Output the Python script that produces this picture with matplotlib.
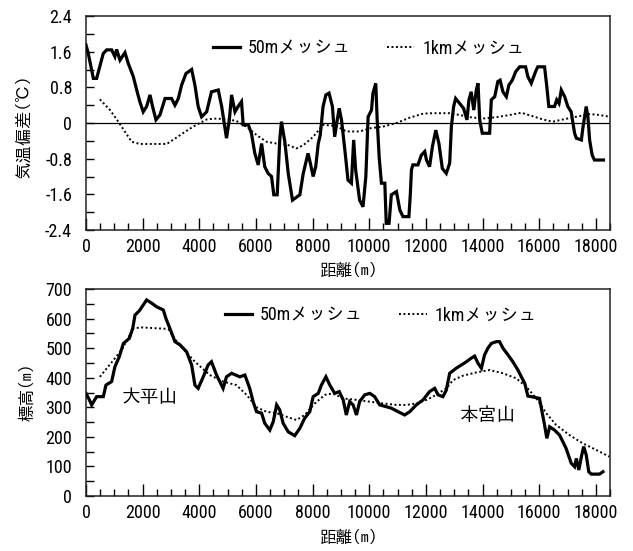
import matplotlib
matplotlib.use('Agg')
import matplotlib.pyplot as plt
from matplotlib import font_manager as fm
from matplotlib.ticker import MultipleLocator, FixedLocator, FixedFormatter

# ---------------- data ----------------
# Top chart: air temperature deviation (°C) vs distance (m)
temp50_d = [0, 80, 260, 375, 610, 730, 905, 1020, 1080, 1200, 1375, 1490, 1670, 1790, 1900,
            2020, 2140, 2260, 2350, 2470, 2610, 2790, 3020, 3140, 3260, 3375, 3530, 3730, 3845,
            3960, 4080, 4260, 4430, 4670, 4790, 4870, 4960, 5060, 5140, 5260, 5370, 5490, 5550,
            5730, 5840, 5960, 6080, 6200, 6310, 6430, 6550, 6630, 6750, 6840, 6900, 7020, 7140,
            7290, 7550, 7670, 7840, 7920, 8020, 8110, 8200, 8270, 8370, 8470, 8580, 8700, 8780,
            8870, 8940, 9020, 9140, 9250, 9370, 9450, 9520, 9660, 9780, 9880, 9960, 10080, 10130,
            10230, 10280, 10350, 10430, 10550, 10600, 10700, 10780, 10960, 11080, 11190, 11310,
            11400, 11450, 11490, 11540, 11720, 11840, 11960, 12020, 12130, 12230, 12350, 12460,
            12580, 12720, 12840, 12900, 12980, 13050, 13190, 13330, 13450, 13520, 13600, 13690,
            13780, 13840, 13900, 13990, 14250, 14310, 14430, 14540, 14620, 14720, 14840, 14930,
            15050, 15170, 15310, 15520, 15600, 15720, 15870, 15950, 16190, 16270, 16340, 16540,
            16620, 16700, 16780, 16900, 17010, 17130, 17250, 17310, 17490, 17540, 17660, 17720,
            17780, 17870, 17950, 18270]
temp50_v = [1.75, 1.56, 1.00, 1.00, 1.56, 1.64, 1.64, 1.49, 1.65, 1.41, 1.58, 1.34, 1.04, 0.74, 0.48,
            0.25, 0.37, 0.63, 0.37, 0.07, 0.18, 0.55, 0.55, 0.40, 0.55, 0.85, 1.11, 1.20, 0.85,
            0.37, 0.14, 0.25, 0.70, 0.74, 0.37, 0.03, -0.34, 0.07, 0.63, 0.25, 0.37, 0.48, -0.04,
            -0.04, -0.23, -0.68, -0.94, -0.46, -0.98, -1.13, -1.20, -1.61, -1.61, -0.38, 0.03, -0.42, -1.13,
            -1.73, -1.61, -1.13, -0.68, -0.90, -1.20, -0.98, -0.46, -0.27, 0.37, 0.63, 0.67, 0.37, -0.31,
            0.07, 0.33, 0.07, -0.61, -1.28, -1.35, -0.38, -1.05, -1.73, -1.88, -1.20, 0.14, 0.29, 0.67,
            0.89, 0.07, -0.76, -1.35, -1.35, -2.25, -2.25, -1.61, -1.54, -1.95, -2.10, -2.10,
            -2.10, -1.60, -1.05, -0.94, -0.94, -0.72, -0.64, -0.83, -0.98, -0.53, -0.16, -0.46,
            -1.02, -1.13, -0.90, -0.08, 0.37, 0.55, 0.44, 0.33, 0.07, 0.52, 0.70, 0.29,
            0.74, 0.89, 0.07, -0.23, -0.23, 0.52, 0.59, 0.93, 0.96, 0.70, 0.59, 0.85,
            0.96, 1.15, 1.26, 1.26, 1.04, 0.89, 1.15, 1.26, 1.26, 0.81, 0.37, 0.37,
            0.52, 0.44, 0.74, 0.59, 0.37, 0.25, -0.23, -0.34, -0.38, -0.12, 0.37, 0.14,
            -0.38, -0.72, -0.83, -0.83]

temp1k_d = [490, 850, 1140, 1380, 1610, 1900, 2850, 3140, 3490, 3790, 4020, 4260, 4610, 4960, 5300,
            5700, 6020, 6370, 6720, 7080, 7430, 7670, 8020, 8370, 8840, 9190, 9660, 10020, 10490,
            10960, 11430, 11900, 12250, 12840, 13190, 13550, 14010, 14490, 14960, 15370, 15780,
            16130, 16480, 16840, 17310, 17780, 18130, 18480]
temp1k_v = [0.53, 0.29, 0.03, -0.20, -0.42, -0.47, -0.47, -0.35, -0.20, -0.08, 0.00, 0.08, 0.10, 0.08, 0.05,
            -0.10, -0.27, -0.42, -0.46, -0.48, -0.57, -0.50, -0.31, -0.04, -0.07, -0.19, -0.19, -0.12, -0.08,
            0.00, 0.12, 0.21, 0.22, 0.22, 0.18, 0.13, 0.10, 0.13, 0.18, 0.23, 0.15,
            0.08, 0.03, 0.08, 0.14, 0.20, 0.18, 0.14]

# Bottom chart: elevation (m) vs distance (m)
elev50_d = [0, 120, 200, 375, 610, 705, 905, 1020, 1175, 1320, 1530, 1650, 1730, 1880, 2020, 2140,
            2320, 2490, 2730, 2820, 2960, 3140, 3320, 3550, 3730, 3845, 3960, 4140, 4310, 4430,
            4610, 4840, 4960, 5140, 5430, 5610, 5780, 5900, 6020, 6200, 6310, 6490, 6610, 6730,
            6840, 6960, 7140, 7370, 7550, 7720, 7900, 8020, 8200, 8310, 8470, 8610, 8780, 8940,
            9080, 9190, 9310, 9430, 9550, 9660, 9840, 10020, 10190, 10370, 10600, 10780, 11020,
            11250, 11430, 11660, 11900, 12130, 12310, 12430, 12600, 12720, 12840, 13070, 13250,
            13430, 13600, 13720, 13840, 13960, 14070, 14190, 14310, 14490, 14600, 14720, 14900,
            15070, 15250, 15370, 15490, 15600, 15720, 16010, 16110, 16190, 16270, 16370, 16540,
            16720, 16950, 17130, 17250, 17310, 17400, 17490, 17570, 17660, 17750, 17840, 18130, 18250]
elev50_v = [347, 325, 308, 336, 336, 375, 387, 437, 471, 516, 533, 567, 612, 626, 646, 663,
            652, 640, 629, 601, 567, 522, 511, 488, 443, 375, 364, 403, 443, 454,
            409, 364, 403, 415, 403, 409, 364, 319, 285, 280, 246, 223, 251, 308,
            291, 246, 217, 204, 229, 263, 285, 336, 347, 375, 403, 375, 347, 353,
            325, 274, 319, 308, 274, 319, 342, 347, 336, 308, 302, 297, 285,
            274, 285, 308, 325, 353, 364, 342, 336, 358, 415, 432, 443,
            454, 466, 473, 449, 432, 477, 500, 516, 522, 522, 500, 477,
            454, 426, 403, 381, 338, 336, 330, 280, 240, 195, 234, 223,
            206, 161, 111, 99, 127, 88, 133, 167, 139, 82, 74, 74, 82]

elev1k_d = [490, 1260, 1670, 1960, 2900, 3140, 3500, 3845, 4370, 4840, 5310, 5670, 6020, 6370, 6730,
            7080, 7430, 7720, 8080, 8430, 8720, 9080, 9550, 10020, 10490, 10960, 11310, 11660,
            12020, 12250, 12720, 12960, 13310, 13780, 14250, 14720, 15190, 15540, 15900, 16250,
            16600, 17070, 17540, 18010, 18480]
elev1k_v = [403, 494, 567, 570, 565, 530, 490, 454, 409, 387, 375, 342, 300, 285, 280,
            268, 257, 274, 313, 342, 347, 330, 325, 319, 313, 308, 308, 313,
            325, 336, 364, 392, 407, 418, 426, 415, 398, 370, 330, 280,
            240, 206, 178, 156, 133]

series_labels = ['50mメッシュ', '1kmメッシュ']
x_ticks = [0, 2000, 4000, 6000, 8000, 10000, 12000, 14000, 16000, 18000]
x_ticklabels = ['0', '2000', '4000', '6000', '8000', '10000', '12000', '14000', '16000', '18000']
t_ticks = [-2.4, -1.6, -0.8, 0, 0.8, 1.6, 2.4]
t_ticklabels = ['-2.4', '-1.6', '-0.8', '0', '0.8', '1.6', '2.4']
e_ticks = [0, 100, 200, 300, 400, 500, 600, 700]
e_ticklabels = ['0', '100', '200', '300', '400', '500', '600', '700']
peak_labels = [('大平山', 1270, 335), ('本宮山', 13190, 274)]

# ---------------- fonts ----------------
names = {f.name for f in fm.fontManager.ttflist}
num_font = 'Roboto Condensed' if 'Roboto Condensed' in names else 'DejaVu Sans'
jp_font = 'IPAGothic' if 'IPAGothic' in names else 'Noto Sans CJK JP'
nsize = 13 if num_font == 'Roboto Condensed' else 11
FAM = [num_font, jp_font, 'Noto Sans CJK JP', 'DejaVu Sans']
JFAM = [jp_font, 'Noto Sans CJK JP', 'DejaVu Sans']
plt.rcParams['font.family'] = FAM

W, H = 633, 551
fig = plt.figure(figsize=(W / 100, H / 100), dpi=100)

def style_axes(ax, yticks, ylabels, yminor):
    ax.set_xlim(0, 18500)
    ax.xaxis.set_major_locator(FixedLocator(x_ticks))
    ax.xaxis.set_major_formatter(FixedFormatter(x_ticklabels))
    ax.xaxis.set_minor_locator(MultipleLocator(500))
    ax.yaxis.set_major_locator(FixedLocator(yticks))
    ax.yaxis.set_major_formatter(FixedFormatter(ylabels))
    ax.yaxis.set_minor_locator(MultipleLocator(yminor))
    ax.tick_params(axis='both', which='both', direction='in', top=False, right=False,
                   colors='black', width=1.0, labelsize=nsize)
    ax.tick_params(axis='x', which='major', length=9, pad=6)
    ax.tick_params(axis='x', which='minor', length=5)
    ax.tick_params(axis='y', which='both', length=6, pad=10)
    for s in ax.spines.values():
        s.set_linewidth(1.1)
        s.set_color('#222222')

# ---- top chart ----
ax1 = fig.add_axes([86 / W, (H - 230) / H, 524 / W, 214 / H])
ax1.axhline(0, color='black', lw=0.9, zorder=1)
l1, = ax1.plot(temp50_d, temp50_v, color='black', lw=2.3, solid_joinstyle='miter', zorder=3)
l2, = ax1.plot(temp1k_d, temp1k_v, color='black', lw=1.4, linestyle=(0, (1, 1.3)), zorder=2)
ax1.set_ylim(-2.4, 2.4)
style_axes(ax1, t_ticks, t_ticklabels, 0.4)
ax1.legend([l1, l2], series_labels, loc='center left', bbox_to_anchor=(0.242, 0.85), ncol=2,
           frameon=False, borderpad=0, borderaxespad=0, handlelength=1.5, handletextpad=0.45,
           columnspacing=2.0, prop={'family': FAM, 'size': nsize})

# ---- bottom chart ----
ax2 = fig.add_axes([86 / W, (H - 496) / H, 524 / W, 207 / H])
m1, = ax2.plot(elev50_d, elev50_v, color='black', lw=2.3, solid_joinstyle='miter', zorder=3)
m2, = ax2.plot(elev1k_d, elev1k_v, color='black', lw=1.4, linestyle=(0, (1, 1.3)), zorder=2)
ax2.set_ylim(0, 700)
style_axes(ax2, e_ticks, e_ticklabels, 50)
ax2.legend([m1, m2], series_labels, loc='center left', bbox_to_anchor=(0.265, 0.874), ncol=2,
           frameon=False, borderpad=0, borderaxespad=0, handlelength=1.5, handletextpad=0.45,
           columnspacing=2.0, prop={'family': FAM, 'size': nsize})
for txt, xd, yd in peak_labels:
    ax2.text(xd, yd, txt, ha='left', va='center', fontsize=13.5, family=JFAM)

# ---- axis titles ----
fig.text(348 / W, 1 - 270 / H, '距離(m)', ha='center', va='center', fontsize=12, family=JFAM)
fig.text(348 / W, 1 - 537 / H, '距離(m)', ha='center', va='center', fontsize=12, family=JFAM)
fig.text(22 / W, 1 - 126 / H, '気温偏差(℃)', ha='center', va='center', rotation=90,
         fontsize=12.5, family=JFAM)
fig.text(27 / W, 1 - 392 / H, '標高(m)', ha='center', va='center', rotation=90,
         fontsize=12, family=JFAM)

fig.savefig('out.png', dpi=100, facecolor='white')
